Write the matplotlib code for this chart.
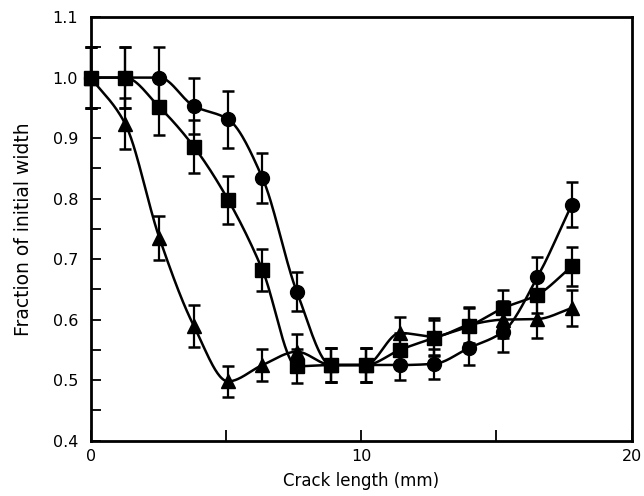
import numpy as np
import matplotlib
matplotlib.use('Agg')
from matplotlib import pyplot as plt

# crack length positions (mm)
crack = [0.0, 1.27, 2.54, 3.81, 5.08, 6.35, 7.62, 8.89, 10.16,
         11.43, 12.70, 13.97, 15.24, 16.51, 17.78]

circle_y = [1.0, 1.0, 1.0, 0.953, 0.931, 0.834, 0.646, 0.525, 0.525,
            0.525, 0.527, 0.553, 0.58, 0.67, 0.79]
circle_err = [0.05, 0.05, 0.05, 0.047, 0.047, 0.042, 0.032, 0.028, 0.028,
              0.025, 0.025, 0.028, 0.033, 0.033, 0.037]

square_y = [1.0, 1.0, 0.951, 0.886, 0.798, 0.682, 0.523, 0.525, 0.525,
            0.55, 0.57, 0.589, 0.619, 0.641, 0.688]
square_err = [0.05, 0.05, 0.046, 0.044, 0.04, 0.034, 0.028, 0.028, 0.028,
              0.028, 0.03, 0.03, 0.03, 0.03, 0.032]

tri_y = [1.0, 0.924, 0.735, 0.59, 0.498, 0.525, 0.547, 0.525, 0.525,
         0.578, 0.572, 0.591, 0.60, 0.601, 0.619]
tri_err = [0.05, 0.042, 0.036, 0.035, 0.025, 0.027, 0.029, 0.028, 0.028,
           0.026, 0.03, 0.03, 0.03, 0.032, 0.03]


def smooth(x, y, n=30):
    # monotone cubic (Fritsch-Carlson) just for the connecting line
    x = np.asarray(x); y = np.asarray(y)
    h = np.diff(x); d = np.diff(y) / h
    m = np.zeros_like(y)
    m[0], m[-1] = d[0], d[-1]
    for k in range(1, len(x) - 1):
        if d[k-1] * d[k] > 0:
            w1 = 2*h[k] + h[k-1]; w2 = h[k] + 2*h[k-1]
            m[k] = (w1 + w2) / (w1/d[k-1] + w2/d[k])
    xs, ys = [], []
    for k in range(len(x) - 1):
        t = np.linspace(0, 1, n)
        h00 = 2*t**3 - 3*t**2 + 1; h10 = t**3 - 2*t**2 + t
        h01 = -2*t**3 + 3*t**2; h11 = t**3 - t**2
        xs.append(x[k] + t*h[k])
        ys.append(h00*y[k] + h10*h[k]*m[k] + h01*y[k+1] + h11*h[k]*m[k+1])
    return np.concatenate(xs), np.concatenate(ys)


fig = plt.figure(figsize=(6.44, 4.96), dpi=100)
ax = fig.add_axes([0.1408, 0.1115, 0.981 - 0.1408, 0.9657 - 0.1115])

for y, e, mk, ms in [(tri_y, tri_err, '^', 10),
                     (square_y, square_err, 's', 9.5),
                     (circle_y, circle_err, 'o', 10)]:
    sx, sy = smooth(crack, y)
    ax.plot(sx, sy, color='black', lw=1.8, zorder=2)
    ax.errorbar(crack, y, yerr=e, fmt=mk, color='black', ms=ms,
                ecolor='black', elinewidth=1.6, capsize=4.5, capthick=1.8,
                zorder=3, clip_on=False)

ax.set_xlim(0, 19.9)
ax.set_ylim(0.4, 1.1)
ax.set_xticks([0, 10, 20])
ax.set_xticks([5, 15], minor=True)
ax.set_yticks(np.arange(0.4, 1.11, 0.1))
ax.set_yticks(np.arange(0.45, 1.1, 0.1), minor=True)
ax.set_yticklabels(['0.4', '0.5', '0.6', '0.7', '0.8', '0.9', '1.0', '1.1'])
ax.tick_params(which='both', direction='in', width=1.3, labelsize=11.5)
ax.tick_params(axis='y', which='both', length=7, pad=9)
ax.tick_params(axis='x', which='both', length=8, pad=6)
for s in ax.spines.values():
    s.set_linewidth(2)

ax.set_xlabel('Crack length (mm)', fontsize=12, labelpad=6)
ax.set_ylabel('Fraction of initial width', fontsize=13.5, labelpad=14)

fig.savefig('out.png', dpi=100)
